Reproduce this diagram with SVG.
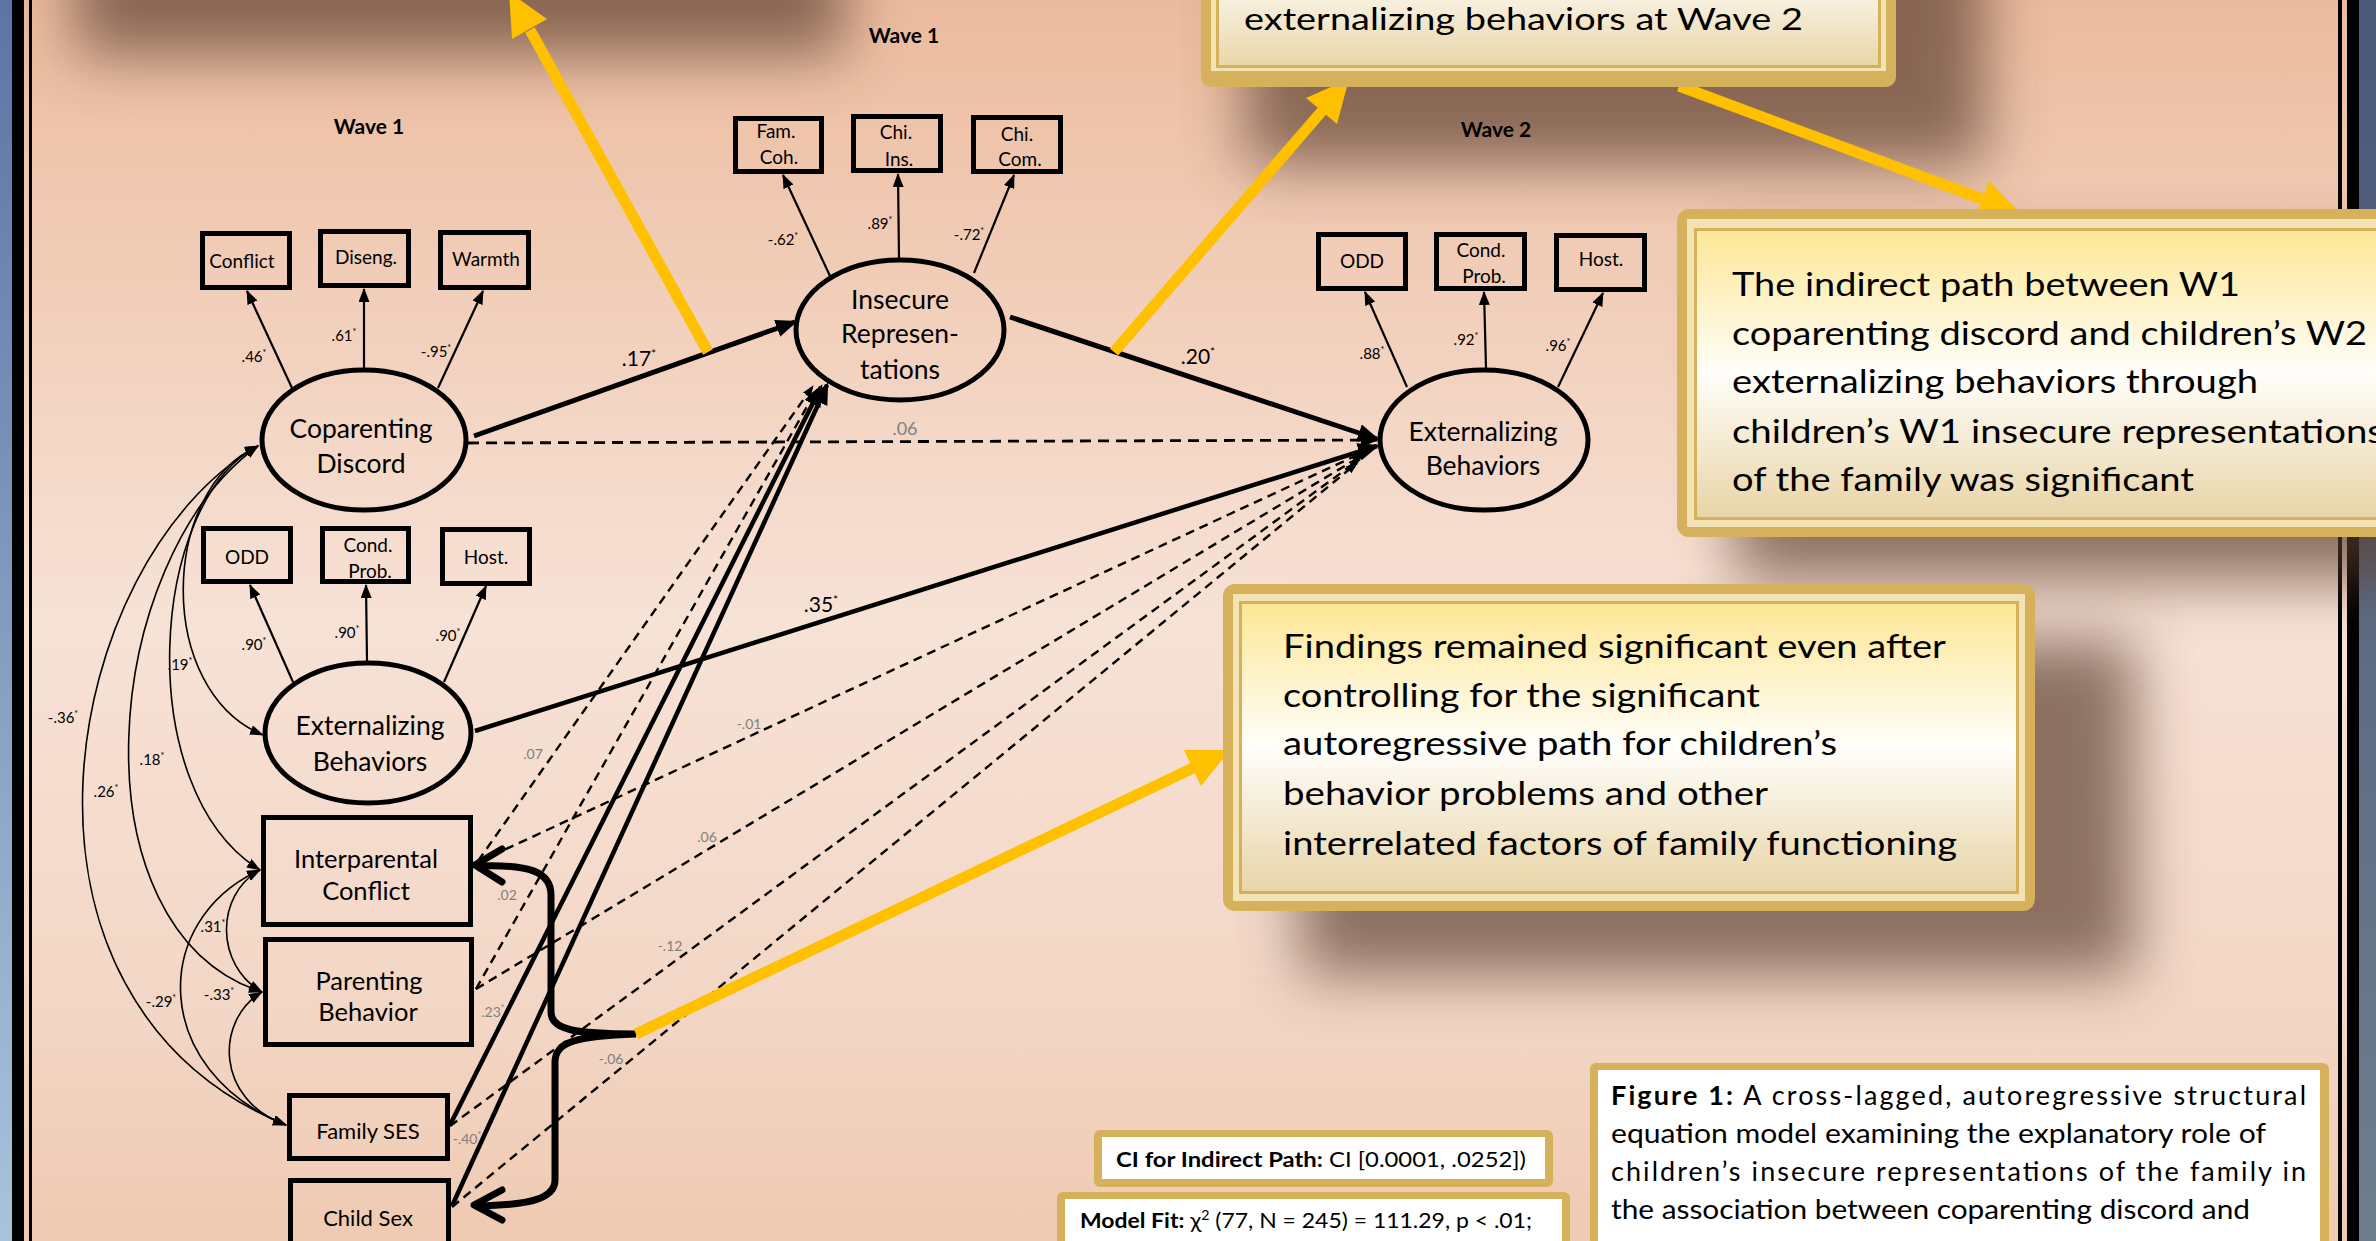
<svg xmlns="http://www.w3.org/2000/svg" width="2376" height="1241" viewBox="0 0 2376 1241">
<defs>
<linearGradient id="bg" x1="0" y1="0" x2="0" y2="1">
<stop offset="0" stop-color="#ebbb9e"/>
<stop offset="0.18" stop-color="#f0cab3"/>
<stop offset="0.5" stop-color="#f7e2d6"/>
<stop offset="0.8" stop-color="#f3d7c6"/>
<stop offset="1" stop-color="#efcab2"/>
</linearGradient>
<linearGradient id="blueL" x1="0" y1="0" x2="0" y2="1"><stop offset="0" stop-color="#5d74a6"/><stop offset="1" stop-color="#a8c3db"/></linearGradient>
<linearGradient id="blueR" x1="0" y1="0" x2="0" y2="1"><stop offset="0" stop-color="#4a5879"/><stop offset="1" stop-color="#6e7e8d"/></linearGradient>
<linearGradient id="callFill" x1="0" y1="0" x2="0" y2="1"><stop offset="0" stop-color="#fde795"/><stop offset="0.5" stop-color="#fffefa"/><stop offset="1" stop-color="#e8d4a6"/></linearGradient>
<linearGradient id="topFill" gradientUnits="userSpaceOnUse" x1="0" y1="-120" x2="0" y2="70"><stop offset="0" stop-color="#fde795"/><stop offset="0.45" stop-color="#fffefa"/><stop offset="1" stop-color="#e8d4a6"/></linearGradient>
<filter id="sh" x="-40%" y="-80%" width="180%" height="260%"><feGaussianBlur stdDeviation="30"/></filter>
<marker id="aBig" viewBox="0 0 22 18" refX="19" refY="9" markerWidth="22" markerHeight="18" markerUnits="userSpaceOnUse" orient="auto"><path d="M0,0 L22,9 L0,18 z" fill="#000"/></marker>
<marker id="aMed" viewBox="0 0 18 14" refX="16" refY="7" markerWidth="18" markerHeight="14" markerUnits="userSpaceOnUse" orient="auto"><path d="M0,0 L18,7 L0,14 z" fill="#000"/></marker>
<marker id="aSm" viewBox="0 0 14 11" refX="13" refY="5.5" markerWidth="14" markerHeight="11" markerUnits="userSpaceOnUse" orient="auto"><path d="M0,0 L14,5.5 L0,11 z" fill="#000"/></marker>
<marker id="aDsh" viewBox="0 0 12 9" refX="11" refY="4.5" markerWidth="12" markerHeight="9" markerUnits="userSpaceOnUse" orient="auto"><path d="M0,0 L12,4.5 L0,9 z" fill="#000"/></marker>
<marker id="aCov" viewBox="0 0 14 10" refX="13" refY="5" markerWidth="14" markerHeight="10" markerUnits="userSpaceOnUse" orient="auto-start-reverse"><path d="M0,0 L14,5 L0,10 z" fill="#000"/></marker>
<style>
text{font-family:Lato,"Liberation Sans",sans-serif;fill:#000}
.node{fill:none;stroke:#000;stroke-width:5}
.lbl{font-size:26.5px;text-anchor:middle}
.lbm{font-size:25.5px;text-anchor:middle}
.lbs{font-size:22px;text-anchor:middle}
.sm{font-size:19px;text-anchor:middle}
.ld{font-size:15px;text-anchor:middle}
.gr{font-size:14px;text-anchor:middle;fill:#808080}
.grb{font-size:18px;text-anchor:middle;fill:#808080}
.wave{font-size:21px;font-weight:bold;text-anchor:middle}
.pl{font-size:21px;text-anchor:middle}
.ind{stroke:#000;stroke-width:2.2;fill:none;marker-end:url(#aSm)}
.str{stroke:#000;stroke-width:5;fill:none;marker-end:url(#aBig)}
.str2{stroke:#000;stroke-width:4.5;fill:none;marker-end:url(#aBig)}
.dsh{stroke:#000;stroke-width:2.4;stroke-dasharray:9 6;fill:none;marker-end:url(#aDsh)}
.cov{stroke:#000;stroke-width:1.6;fill:none;marker-start:url(#aCov);marker-end:url(#aCov)}
.yel{stroke:#ffc000;stroke-width:11;fill:none}
.yh{fill:#ffc000}
.gold{fill:#d6b15b}
.cream{fill:#f3e2b3}
.inner{fill:url(#callFill);stroke:#d6b15b;stroke-width:3}
.call{font-size:33px}
.calltop{font-size:30px}
.cap{font-size:27px}
.info{font-size:21px}
.shd{fill:#5a3e2e;opacity:0.68;filter:url(#sh)}
</style>
</defs>

<!-- background and frame -->
<rect x="0" y="0" width="2376" height="1241" fill="url(#bg)"/>
<rect x="0" y="0" width="12" height="1241" fill="url(#blueL)"/>
<rect x="12" y="0" width="12" height="1241" fill="#000"/>
<rect x="29" y="0" width="3" height="1241" fill="#000"/>
<rect x="2338" y="0" width="4" height="1241" fill="#000"/>
<rect x="2347" y="0" width="12" height="1241" fill="#000"/>
<rect x="2359" y="0" width="17" height="1241" fill="url(#blueR)"/>

<!-- shadows -->
<g id="shadows">
<rect class="shd" x="75" y="-200" width="770" height="255"/>
<rect class="shd" x="1245" y="-200" width="740" height="365"/>
<rect class="shd" x="1735" y="250" width="700" height="330"/>
<rect class="shd" x="1300" y="640" width="835" height="335"/>
</g>

<!-- wave labels -->
<text class="wave" x="369" y="134">Wave 1</text>
<text class="wave" x="904" y="43">Wave 1</text>
<text class="wave" x="1496" y="137">Wave 2</text>

<!-- connectors -->
<g id="connectors">
<line class="ind" x1="292" y1="388" x2="247" y2="291"/>
<line class="ind" x1="364" y1="368" x2="364" y2="289"/>
<line class="ind" x1="438" y1="388" x2="483" y2="291"/>
<line class="ind" x1="293" y1="682" x2="250" y2="585"/>
<line class="ind" x1="367" y1="661" x2="366" y2="585"/>
<line class="ind" x1="444" y1="682" x2="486" y2="586"/>
<line class="ind" x1="830" y1="276" x2="783" y2="175"/>
<line class="ind" x1="899" y1="258" x2="898" y2="174"/>
<line class="ind" x1="974" y1="273" x2="1014" y2="175"/>
<line class="ind" x1="1407" y1="387" x2="1365" y2="292"/>
<line class="ind" x1="1486" y1="368" x2="1484" y2="292"/>
<line class="ind" x1="1558" y1="387" x2="1603" y2="293"/>
<line class="str" x1="474" y1="436" x2="795" y2="322"/>
<line class="str" x1="1010" y1="317" x2="1377" y2="439"/>
<line class="str2" x1="475" y1="731" x2="1377" y2="446"/>
<line class="str2" x1="450" y1="1125" x2="821" y2="387"/>
<line class="str2" x1="452" y1="1206" x2="827" y2="385"/>
<line x1="468" y1="443" x2="1377" y2="440" stroke="#000" stroke-width="2.8" stroke-dasharray="11 7" marker-end="url(#aMed)"/>
<line class="dsh" x1="478" y1="861" x2="813" y2="386"/>
<line class="dsh" x1="476" y1="989" x2="817" y2="389"/>
<line class="dsh" x1="478" y1="862" x2="1366" y2="451"/>
<line class="dsh" x1="476" y1="989" x2="1363" y2="455"/>
<line class="dsh" x1="450" y1="1126" x2="1360" y2="459"/>
<line class="dsh" x1="452" y1="1207" x2="1357" y2="463"/>
<path class="cov" d="M258,446 C160,490 155,690 263,735"/>
<path class="cov" d="M258,446 C150,500 130,790 260,870"/>
<path class="cov" d="M258,446 C100,560 70,930 262,992"/>
<path class="cov" d="M258,446 C60,560 -20,1000 286,1125"/>
<path class="cov" d="M260,870 C215,895 215,965 262,992"/>
<path class="cov" d="M260,870 C150,920 150,1070 286,1125"/>
<path class="cov" d="M262,992 C215,1020 215,1100 286,1125"/>
<path d="M478,866 C530,864 551,872 551,895 L551,1012 C551,1030 575,1034 636,1034 C576,1036 555,1042 555,1062 L555,1180 C555,1198 532,1205 478,1206" fill="none" stroke="#000" stroke-width="7"/>
<polyline points="502,849 475,865 502,882" fill="none" stroke="#000" stroke-width="7" stroke-linecap="round" stroke-linejoin="round"/>
<polyline points="502,1190 474,1205 502,1220" fill="none" stroke="#000" stroke-width="7" stroke-linecap="round" stroke-linejoin="round"/>
</g>

<!-- path labels -->
<g id="path-labels">
<text class="ld" x="254" y="362">.46<tspan font-size="9" dy="-6">*</tspan></text>
<text class="ld" x="344" y="341">.61<tspan font-size="9" dy="-6">*</tspan></text>
<text class="ld" x="436" y="357">-.95<tspan font-size="9" dy="-6">*</tspan></text>
<text class="ld" x="254" y="650">.90<tspan font-size="9" dy="-6">*</tspan></text>
<text class="ld" x="347" y="638">.90<tspan font-size="9" dy="-6">*</tspan></text>
<text class="ld" x="448" y="641">.90<tspan font-size="9" dy="-6">*</tspan></text>
<text class="ld" x="783" y="245">-.62<tspan font-size="9" dy="-6">*</tspan></text>
<text class="ld" x="880" y="229">.89<tspan font-size="9" dy="-6">*</tspan></text>
<text class="ld" x="969" y="240">-.72<tspan font-size="9" dy="-6">*</tspan></text>
<text class="ld" x="1372" y="359">.88<tspan font-size="9" dy="-6">*</tspan></text>
<text class="ld" x="1466" y="345">.92<tspan font-size="9" dy="-6">*</tspan></text>
<text class="ld" x="1558" y="351">.96<tspan font-size="9" dy="-6">*</tspan></text>
<text class="ld" x="180" y="670">.19<tspan font-size="9" dy="-6">*</tspan></text>
<text class="ld" x="63" y="723">-.36<tspan font-size="9" dy="-6">*</tspan></text>
<text class="ld" x="152" y="765">.18<tspan font-size="9" dy="-6">*</tspan></text>
<text class="ld" x="106" y="797">.26<tspan font-size="9" dy="-6">*</tspan></text>
<text class="ld" x="213" y="932">.31<tspan font-size="9" dy="-6">*</tspan></text>
<text class="ld" x="219" y="1000">-.33<tspan font-size="9" dy="-6">*</tspan></text>
<text class="ld" x="161" y="1007">-.29<tspan font-size="9" dy="-6">*</tspan></text>
<text class="pl" x="639" y="366">.17<tspan font-size="12" dy="-8">*</tspan></text>
<text class="pl" x="1198" y="364">.20<tspan font-size="12" dy="-8">*</tspan></text>
<text class="pl" x="821" y="612">.35<tspan font-size="12" dy="-8">*</tspan></text>
<text class="grb" x="905" y="435">.06</text>
<text class="gr" x="533" y="759">.07</text>
<text class="gr" x="749" y="729">-.01</text>
<text class="gr" x="507" y="900">.02</text>
<text class="gr" x="707" y="842">.06</text>
<text class="gr" x="493" y="1017">.23<tspan font-size="9" dy="-6">*</tspan></text>
<text class="gr" x="670" y="951">-.12</text>
<text class="gr" x="467" y="1144">-.40<tspan font-size="9" dy="-6">*</tspan></text>
<text class="gr" x="611" y="1064">-.06</text>
</g>

<!-- nodes -->
<g id="n-conflict"><rect class="node" x="202.5" y="233.5" width="87" height="54"/><text class="sm" x="242" y="268">Conflict</text></g>
<g id="n-diseng"><rect class="node" x="320.5" y="231.5" width="88" height="54"/><text class="sm" x="366" y="264">Diseng.</text></g>
<g id="n-warmth"><rect class="node" x="440.5" y="232.5" width="88" height="55"/><text class="sm" x="486" y="266">Warmth</text></g>
<g id="n-coparenting-discord"><ellipse class="node" cx="364" cy="440" rx="102" ry="70"/><text class="lbl" x="361" y="438">Coparenting</text><text class="lbl" x="361" y="473">Discord</text></g>
<g id="n-odd-w1"><rect class="node" x="203.5" y="528.5" width="87" height="53"/><text class="sm" x="247" y="564">ODD</text></g>
<g id="n-condprob-w1"><rect class="node" x="322.5" y="528.5" width="86" height="53"/><text class="sm" x="368" y="552">Cond.</text><text class="sm" x="370" y="578">Prob.</text></g>
<g id="n-host-w1"><rect class="node" x="442.5" y="529.5" width="87" height="54"/><text class="sm" x="486" y="564">Host.</text></g>
<g id="n-externalizing-w1"><ellipse class="node" cx="368" cy="733" rx="103" ry="70"/><text class="lbl" x="370" y="735">Externalizing</text><text class="lbl" x="370" y="771">Behaviors</text></g>
<g id="n-famcoh"><rect class="node" x="735.5" y="118.5" width="86" height="53"/><text class="sm" x="776" y="138">Fam.</text><text class="sm" x="779" y="164">Coh.</text></g>
<g id="n-chiins"><rect class="node" x="853.5" y="116.5" width="87" height="54"/><text class="sm" x="896" y="139">Chi.</text><text class="sm" x="899" y="166">Ins.</text></g>
<g id="n-chicom"><rect class="node" x="973.5" y="117.5" width="87" height="54"/><text class="sm" x="1017" y="141">Chi.</text><text class="sm" x="1020" y="166">Com.</text></g>
<g id="n-insecure"><ellipse class="node" cx="900" cy="330" rx="104" ry="70"/><text class="lbl" x="900" y="309">Insecure</text><text class="lbl" x="900" y="343">Represen-</text><text class="lbl" x="900" y="379">tations</text></g>
<g id="n-odd-w2"><rect class="node" x="1318.5" y="234.5" width="87" height="54"/><text class="sm" x="1362" y="268">ODD</text></g>
<g id="n-condprob-w2"><rect class="node" x="1436.5" y="234.5" width="88" height="54"/><text class="sm" x="1481" y="257">Cond.</text><text class="sm" x="1484" y="283">Prob.</text></g>
<g id="n-host-w2"><rect class="node" x="1556.5" y="235.5" width="88" height="54"/><text class="sm" x="1601" y="266">Host.</text></g>
<g id="n-externalizing-w2"><ellipse class="node" cx="1484" cy="440" rx="104" ry="70"/><text class="lbl" x="1483" y="441">Externalizing</text><text class="lbl" x="1483" y="475">Behaviors</text></g>
<g id="n-interparental"><rect class="node" x="263.5" y="817.5" width="207" height="107"/><text class="lbm" x="366" y="868">Interparental</text><text class="lbm" x="366" y="900">Conflict</text></g>
<g id="n-parenting"><rect class="node" x="265.5" y="939.5" width="206" height="105"/><text class="lbm" x="369" y="990">Parenting</text><text class="lbm" x="368" y="1021">Behavior</text></g>
<g id="n-familyses"><rect class="node" x="289.5" y="1095.5" width="158" height="63"/><text class="lbs" x="368" y="1139">Family SES</text></g>
<g id="n-childsex"><rect class="node" x="290.5" y="1180.5" width="158" height="100"/><text class="lbs" x="368" y="1226">Child Sex</text></g>

<!-- callout arrows -->
<g id="callout-arrows">
<line class="yel" x1="708" y1="352" x2="530" y2="30"/>
<polygon class="yh" points="509,-8 547,19 512,39"/>
<line class="yel" x1="1114" y1="352" x2="1322" y2="111"/>
<polygon class="yh" points="1349,79 1337,124 1306,98"/>
<line class="yel" x1="1679" y1="86" x2="1982" y2="199"/>
<polygon class="yh" points="2021,214 1975,218 1989,181"/>
<line class="yel" x1="636" y1="1034" x2="1193" y2="768"/>
<polygon class="yh" points="1230,750 1201,786 1184,750"/>
</g>

<!-- callout boxes -->
<g id="callout-top">
<rect class="gold" x="1201" y="-100" width="695" height="187" rx="10"/>
<rect class="cream" x="1211" y="-100" width="675" height="171"/>
<rect x="1217.5" y="-100" width="662" height="166.5" fill="url(#topFill)" stroke="#d6b15b" stroke-width="3"/>
<text class="calltop" x="1244" y="30" textLength="559" lengthAdjust="spacingAndGlyphs">externalizing behaviors at Wave 2</text>
</g>
<g id="callout-indirect">
<rect class="gold" x="1677" y="209" width="760" height="328" rx="12"/>
<rect class="cream" x="1687" y="219" width="740" height="308"/>
<rect class="inner" x="1695.5" y="229.5" width="723" height="289"/>
<text class="call" x="1732" y="296" textLength="508" lengthAdjust="spacingAndGlyphs">The indirect path between W1</text>
<text class="call" x="1732" y="345" textLength="635" lengthAdjust="spacingAndGlyphs">coparenting discord and children’s W2</text>
<text class="call" x="1732" y="393" textLength="526" lengthAdjust="spacingAndGlyphs">externalizing behaviors through</text>
<text class="call" x="1732" y="443" textLength="652" lengthAdjust="spacingAndGlyphs">children’s W1 insecure representations</text>
<text class="call" x="1732" y="491" textLength="462" lengthAdjust="spacingAndGlyphs">of the family was significant</text>
</g>
<g id="callout-findings">
<rect class="gold" x="1223" y="584" width="812" height="327" rx="12"/>
<rect class="cream" x="1233" y="594" width="792" height="307"/>
<rect class="inner" x="1240.5" y="602.5" width="777" height="290"/>
<text class="call" x="1283" y="658" textLength="663" lengthAdjust="spacingAndGlyphs">Findings remained significant even after</text>
<text class="call" x="1283" y="707" textLength="477" lengthAdjust="spacingAndGlyphs">controlling for the significant</text>
<text class="call" x="1283" y="755" textLength="554" lengthAdjust="spacingAndGlyphs">autoregressive path for children’s</text>
<text class="call" x="1283" y="805" textLength="485" lengthAdjust="spacingAndGlyphs">behavior problems and other</text>
<text class="call" x="1283" y="855" textLength="674" lengthAdjust="spacingAndGlyphs">interrelated factors of family functioning</text>
</g>
<g id="ci-box">
<rect class="gold" x="1094" y="1130" width="459" height="57" rx="6"/>
<rect x="1102" y="1137" width="443" height="42" fill="#fff"/>
<text class="info" x="1116" y="1167" textLength="410" lengthAdjust="spacingAndGlyphs"><tspan font-weight="bold">CI for Indirect Path:</tspan> CI [0.0001, .0252])</text>
</g>
<g id="modelfit-box">
<rect class="gold" x="1057" y="1192" width="513" height="80" rx="6"/>
<rect x="1065" y="1199" width="497" height="60" fill="#fff"/>
<text class="info" x="1080" y="1228" textLength="452" lengthAdjust="spacingAndGlyphs"><tspan font-weight="bold">Model Fit:</tspan> χ<tspan font-size="13" dy="-8">2</tspan><tspan dy="8"> (77, N = 245) = 111.29, p &lt; .01;</tspan></text>
</g>
<g id="caption-box">
<rect class="gold" x="1590" y="1063" width="739" height="200" rx="6"/>
<rect x="1598" y="1070" width="722" height="200" fill="#fff"/>
<text class="cap" x="1611" y="1105" textLength="695" lengthAdjust="spacing"><tspan font-weight="bold">Figure 1:</tspan> A cross-lagged, autoregressive structural</text>
<text class="cap" x="1611" y="1143" textLength="655" lengthAdjust="spacingAndGlyphs">equation model examining the explanatory role of</text>
<text class="cap" x="1611" y="1181" textLength="695" lengthAdjust="spacing">children’s insecure representations of the family in</text>
<text class="cap" x="1611" y="1219" textLength="639" lengthAdjust="spacingAndGlyphs">the association between coparenting discord and</text>
</g>
</svg>
